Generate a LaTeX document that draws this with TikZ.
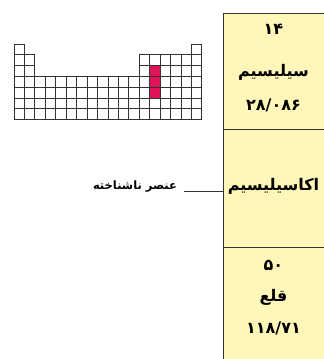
\documentclass[tikz,border=0pt]{standalone}
\usepackage{fontspec}
\newfontfamily\fa[Script=Arabic]{DejaVu Sans}
\TeXXeTstate=1
\definecolor{boxfill}{RGB}{255,246,186}
\definecolor{cellred}{RGB}{226,20,88}
\tikzset{
  boxline/.style={line width=1pt, draw=black!80},
  cell/.style={line width=0.9pt, draw=black!80},
  fatext/.style={font=\fa\bfseries\fontsize{16}{18}\selectfont, inner sep=1pt},
  labtext/.style={font=\fa\bfseries\fontsize{11.5}{14}\selectfont, inner sep=1pt},
  lead/.style={line width=0.9pt, draw=black!80}
}
\begin{document}
\begin{tikzpicture}[x=1pt,y=-1pt]
\useasboundingbox (0,0) rectangle (324,359);
% element column box
\fill[boxfill] (223,13) rectangle (324,359);
\draw[boxline] (324,13) -- (223,13) -- (223,359);
\draw[boxline] (223,129) -- (324,129);
\draw[boxline] (223,247) -- (324,247);
% periodic table sketch
\def\cw{10.44}
\def\ch{10.8}
\foreach \r in {3,4,5}{
  \fill[cellred] ({14+13*\cw},{44+(\r-1)*\ch}) rectangle ++(\cw,\ch);
}
\foreach \r/\c in {1/1,1/18}{
  \draw[cell] ({14+(\c-1)*\cw},{44+(\r-1)*\ch}) rectangle ++(\cw,\ch);
}
\foreach \r in {2,3}{
  \foreach \c in {1,2,13,14,15,16,17,18}{
    \draw[cell] ({14+(\c-1)*\cw},{44+(\r-1)*\ch}) rectangle ++(\cw,\ch);
  }
}
\foreach \r in {4,5,6,7}{
  \foreach \c in {1,...,18}{
    \draw[cell] ({14+(\c-1)*\cw},{44+(\r-1)*\ch}) rectangle ++(\cw,\ch);
  }
}
% texts in the box
\node[fatext] (n1) at (273.5,29) {۱۴};
\node[fatext] (s1) at (273.5,72) {\beginR سیلیسیم\endR};
\node[fatext] (m1) at (273.5,105) {۲۸/۰۸۶};
\node[fatext] (s2) at (273.5,186) {\beginR اکاسیلیسیم\endR};
\node[fatext] (n3) at (273.5,265) {۵۰};
\node[fatext] (s3) at (273.5,297) {\beginR قلع\endR};
\node[fatext] (m3) at (273.5,328) {۱۱۸/۷۱};
% label with leader line
\node[labtext] (lab) at (135,187) {\beginR عنصر ناشناخته\endR};
\coordinate (tip) at (223,191);
\draw[lead, shorten <=6pt] (lab.east |- tip) -- (tip);
\end{tikzpicture}
\end{document}
